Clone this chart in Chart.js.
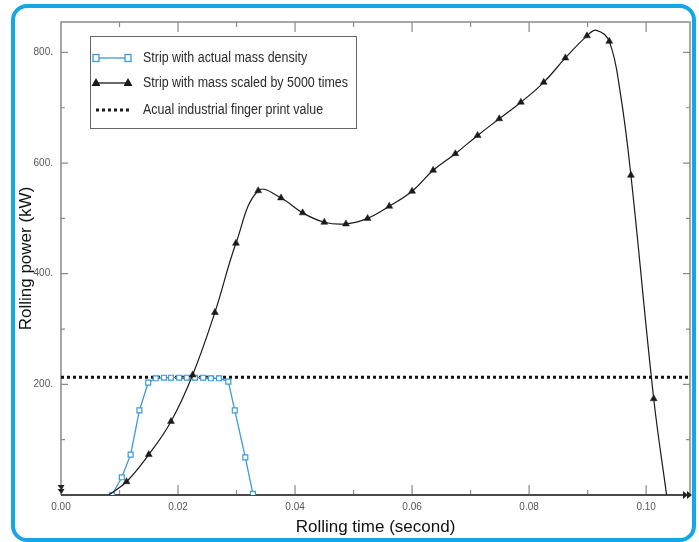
<!DOCTYPE html>
<html>
<head>
<meta charset="utf-8">
<script src="https://cdn.jsdelivr.net/npm/chart.js@4.4.1/dist/chart.umd.min.js"></script>
<style>
  html, body { margin: 0; padding: 0; background: #fff; }
  #wrap { position: relative; width: 699px; height: 542px; }
  #frame {
    position: absolute; left: 11px; top: 4px; width: 677px; height: 530px;
    border: 4px solid #14a6e6; border-radius: 16px;
  }
  #chart { position: absolute; left: 0; top: 0; }
</style>
</head>
<body>
<div id="wrap">
  <div id="frame"></div>
  <canvas id="chart" width="699" height="542"></canvas>
</div>
<script>
// data
var blueTime  = [0.0087, 0.0104, 0.0119, 0.0134, 0.0149, 0.0162, 0.0176, 0.0188, 0.0202, 0.0215, 0.0229, 0.0243, 0.0256, 0.0270, 0.0286, 0.0297, 0.0315, 0.0328];
var bluePower = [0, 32, 73, 153, 203, 211, 212, 212, 212, 212, 212, 212, 211, 211, 205, 153, 68, 2];

var blackTime  = [0.0082, 0.0112, 0.0150, 0.0188, 0.0225, 0.0263, 0.0299, 0.0337, 0.0376, 0.0413, 0.0450, 0.0487, 0.0524, 0.0561, 0.0600, 0.0636, 0.0674, 0.0712, 0.0749, 0.0786, 0.0825, 0.0862, 0.0899, 0.0915, 0.0937, 0.0956, 0.0974, 0.1013, 0.1035];
var blackPower = [0, 24, 73, 133, 217, 330, 455, 550, 537, 510, 493, 490, 500, 522, 549, 587, 617, 650, 680, 710, 746, 790, 830, 840, 820, 726, 578, 174, 0];
// false = curve point without a triangle marker
var blackMarked = [false, true, true, true, true, true, true, true, true, true, true, true, true, true, true, true, true, true, true, true, true, true, true, false, true, false, true, true, false];

var refPower = 213;
var timeRange = [0, 0.1075];
var powerRange = [0, 855];

var labels = ['Strip with actual mass density', 'Strip with mass scaled by 5000 times', 'Acual industrial finger print value'];
var xTitle = 'Rolling time (second)';
var yTitle = 'Rolling power (kW)';

var blue = '#3d9ad8';
var black = '#1a1a1a';

function toPoints(xs, ys) {
  return xs.map(function(x, i) { return { x: x, y: ys[i] }; });
}

// inside tick marks, frame and axis arrows
var framePlugin = {
  id: 'frame',
  beforeDatasetsDraw: function(chart) {
    var ctx = chart.ctx, a = chart.chartArea;
    var xs = chart.scales.x, ys = chart.scales.y;
    ctx.save();
    ctx.strokeStyle = '#8a8a8a';
    ctx.lineWidth = 1.5;
    ctx.beginPath();
    ctx.moveTo(a.left, a.bottom); ctx.lineTo(a.left, a.top);
    ctx.lineTo(a.right, a.top); ctx.lineTo(a.right, a.bottom);
    ctx.stroke();

    ctx.lineWidth = 1.2;
    for (var i = 1; i <= 10; i++) {
      var px = xs.getPixelForValue(i / 100);
      var len = i % 2 === 0 ? 10 : 5;
      ctx.beginPath();
      ctx.moveTo(px, a.bottom); ctx.lineTo(px, a.bottom - len);
      ctx.moveTo(px, a.top); ctx.lineTo(px, a.top + len);
      ctx.stroke();
    }
    for (var v = 100; v <= 800; v += 100) {
      var py = ys.getPixelForValue(v);
      var l2 = v % 200 === 0 ? 7 : 4;
      ctx.beginPath();
      ctx.moveTo(a.left, py); ctx.lineTo(a.left + l2, py);
      ctx.moveTo(a.right, py); ctx.lineTo(a.right - l2, py);
      ctx.stroke();
    }

    ctx.strokeStyle = '#4a4a4a';
    ctx.lineWidth = 2;
    ctx.beginPath();
    ctx.moveTo(a.left, a.bottom); ctx.lineTo(a.right, a.bottom);
    ctx.stroke();

    ctx.fillStyle = '#222';
    [a.right - 7, a.right - 3].forEach(function(x) {
      ctx.beginPath();
      ctx.moveTo(x, a.bottom - 4); ctx.lineTo(x + 5, a.bottom); ctx.lineTo(x, a.bottom + 4);
      ctx.fill();
    });
    [a.bottom - 10, a.bottom - 6].forEach(function(y) {
      ctx.beginPath();
      ctx.moveTo(a.left - 3.5, y); ctx.lineTo(a.left + 0.5, y + 5); ctx.lineTo(a.left + 3.5, y);
      ctx.fill();
    });
    ctx.restore();
  }
};

// legend box with line + marker samples
var legendPlugin = {
  id: 'boxLegend',
  afterDraw: function(chart) {
    var ctx = chart.ctx;
    var bx = 90, by = 36, bw = 266, bh = 92;
    var rows = [58, 83, 110];
    var x1 = 96, x2 = 128;
    ctx.save();
    ctx.fillStyle = '#fff';
    ctx.fillRect(bx, by, bw, bh);
    ctx.strokeStyle = '#666';
    ctx.lineWidth = 1;
    ctx.strokeRect(bx + 0.5, by + 0.5, bw, bh);

    // blue squares
    ctx.strokeStyle = blue;
    ctx.lineWidth = 1.3;
    ctx.beginPath(); ctx.moveTo(x1, rows[0]); ctx.lineTo(x2, rows[0]); ctx.stroke();
    [x1, x2].forEach(function(x) {
      ctx.fillStyle = '#fff';
      ctx.fillRect(x - 3, rows[0] - 3.5, 6, 7);
      ctx.strokeRect(x - 3, rows[0] - 3.5, 6, 7);
    });

    // black triangles
    ctx.strokeStyle = black;
    ctx.fillStyle = black;
    ctx.beginPath(); ctx.moveTo(x1, rows[1]); ctx.lineTo(x2, rows[1]); ctx.stroke();
    [x1, x2].forEach(function(x) {
      ctx.beginPath();
      ctx.moveTo(x, rows[1] - 5); ctx.lineTo(x + 4.5, rows[1] + 3); ctx.lineTo(x - 4.5, rows[1] + 3);
      ctx.fill();
    });

    // dotted
    ctx.lineWidth = 3;
    ctx.setLineDash([3, 3]);
    ctx.beginPath(); ctx.moveTo(x1, rows[2]); ctx.lineTo(x2 + 2, rows[2]); ctx.stroke();
    ctx.setLineDash([]);

    // condensed text like the original
    ctx.fillStyle = '#2a2a2a';
    ctx.font = '14px "Liberation Sans", sans-serif';
    ctx.textBaseline = 'middle';
    labels.forEach(function(t, i) {
      ctx.save();
      ctx.translate(143, rows[i]);
      ctx.scale(0.89, 1);
      ctx.fillText(t, 0, 0);
      ctx.restore();
    });
    ctx.restore();
  }
};

var ctx = document.getElementById('chart').getContext('2d');
var chart = new Chart(ctx, {
  type: 'scatter',
  data: {
    datasets: [{
      label: labels[0],
      data: toPoints(blueTime, bluePower),
      showLine: true,
      borderColor: blue,
      borderWidth: 1.3,
      pointStyle: 'rect',
      pointRadius: 3.5,
      pointBackgroundColor: '#fff',
      pointBorderColor: blue,
      pointBorderWidth: 1.2,
      tension: 0,
      order: 2
    }, {
      label: labels[1],
      data: toPoints(blackTime, blackPower),
      showLine: true,
      borderColor: black,
      borderWidth: 1.2,
      pointStyle: 'triangle',
      pointRadius: blackMarked.map(function(m) { return m ? 4 : 0; }),
      pointBackgroundColor: black,
      pointBorderColor: black,
      pointBorderWidth: 0.5,
      tension: 0.4,
      order: 1
    }, {
      label: labels[2],
      data: toPoints(timeRange, [refPower, refPower]),
      showLine: true,
      borderColor: '#111',
      borderWidth: 3,
      borderDash: [3, 3],
      pointRadius: 0,
      order: 3
    }]
  },
  options: {
    responsive: false,
    animation: false,
    layout: { padding: { top: 22, right: 9, left: 0, bottom: 0 } },
    plugins: { legend: { display: false }, tooltip: { enabled: false } },
    scales: {
      x: {
        type: 'linear',
        min: timeRange[0],
        max: timeRange[1],
        grid: { display: false, drawTicks: false },
        border: { display: false },
        afterFit: function(scale) { scale.height = 47; },
        ticks: {
          stepSize: 0.01,
          includeBounds: false,
          autoSkip: false,
          maxRotation: 0,
          padding: 6,
          color: '#555',
          font: { family: '"Liberation Sans", sans-serif', size: 10 },
          callback: function(v) {
            var k = Math.round(v * 100);
            return k % 2 === 0 ? (k / 100).toFixed(2) : '';
          }
        },
        title: {
          display: true,
          text: xTitle,
          color: '#111',
          padding: { top: 0, bottom: 4 },
          font: { family: '"Liberation Sans", sans-serif', size: 17 }
        }
      },
      y: {
        type: 'linear',
        min: powerRange[0],
        max: powerRange[1],
        grid: { display: false, drawTicks: false },
        border: { display: false },
        afterFit: function(scale) { scale.width = 61; },
        ticks: {
          stepSize: 100,
          includeBounds: false,
          autoSkip: false,
          padding: 8,
          color: '#555',
          font: { family: '"Liberation Sans", sans-serif', size: 10 },
          callback: function(v) {
            return (v > 0 && v % 200 === 0) ? v + '.' : '';
          }
        },
        title: {
          display: true,
          text: yTitle,
          color: '#111',
          padding: { top: 16, bottom: 0 },
          font: { family: '"Liberation Sans", sans-serif', size: 17 }
        }
      }
    }
  },
  plugins: [framePlugin, legendPlugin]
});
</script>
</body>
</html>
